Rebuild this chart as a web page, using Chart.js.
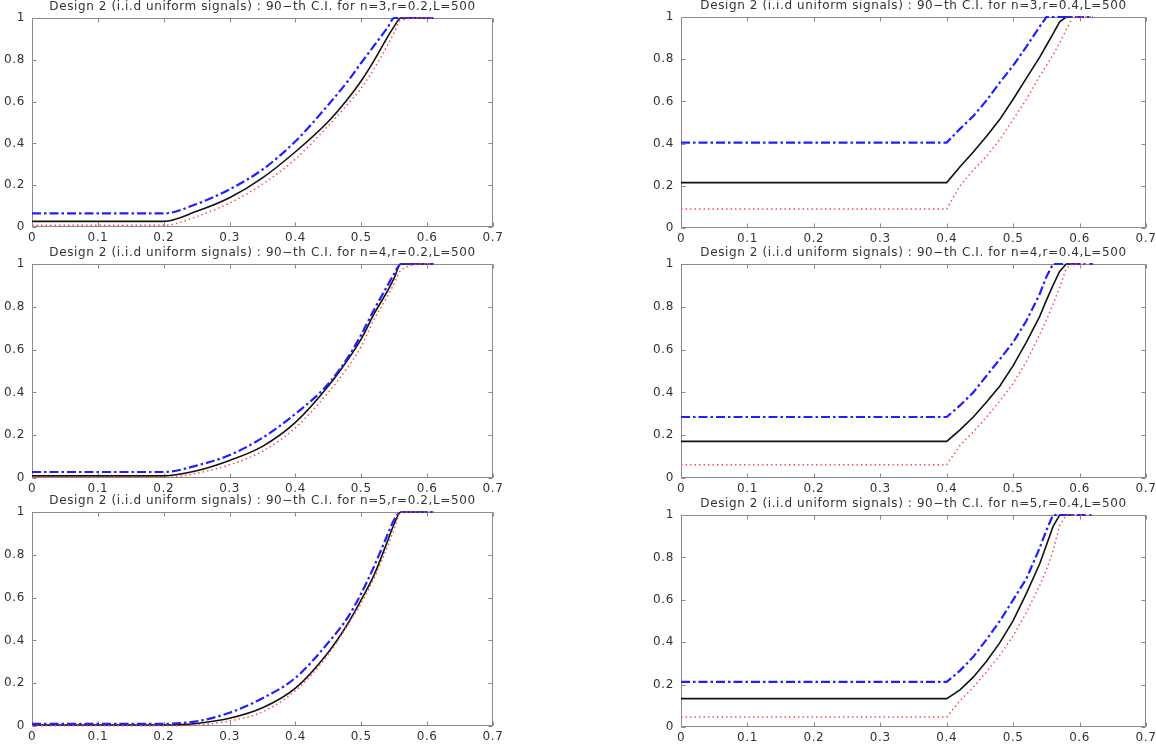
<!DOCTYPE html>
<html>
<head>
<meta charset="utf-8">
<script src="https://cdn.jsdelivr.net/npm/chart.js@4.4.0/dist/chart.umd.min.js"></script>
<style>
  body { margin: 0; background: #fff; width: 1156px; height: 746px; position: relative; overflow: hidden; }
  canvas { position: absolute; }
</style>
</head>
<body>
<canvas id="p1"></canvas>
<canvas id="p2"></canvas>
<canvas id="p3"></canvas>
<canvas id="p4"></canvas>
<canvas id="p5"></canvas>
<canvas id="p6"></canvas>
<script>
// --- data ---
const xTickVals = [0, 0.1, 0.2, 0.3, 0.4, 0.5, 0.6, 0.7];
const xTickLabels = ["0", "0.1", "0.2", "0.3", "0.4", "0.5", "0.6", "0.7"];
const yTickVals = [0, 0.2, 0.4, 0.6, 0.8, 1];
const yTickLabels = ["0", "0.2", "0.4", "0.6", "0.8", "1"];

const titles = [
  "Design 2 (i.i.d uniform signals) : 90\u2212th C.I. for n=3,r=0.2,L=500",
  "Design 2 (i.i.d uniform signals) : 90\u2212th C.I. for n=3,r=0.4,L=500",
  "Design 2 (i.i.d uniform signals) : 90\u2212th C.I. for n=4,r=0.2,L=500",
  "Design 2 (i.i.d uniform signals) : 90\u2212th C.I. for n=4,r=0.4,L=500",
  "Design 2 (i.i.d uniform signals) : 90\u2212th C.I. for n=5,r=0.2,L=500",
  "Design 2 (i.i.d uniform signals) : 90\u2212th C.I. for n=5,r=0.4,L=500"
];

// x grid for r=0.2 panels and for r=0.4 panels
const xLow = [0, 0.2, 0.25, 0.3, 0.35, 0.4, 0.45, 0.48, 0.5, 0.52, 0.54, 0.55, 0.56, 0.6, 0.61];
const xHigh = [0, 0.4, 0.42, 0.44, 0.46, 0.48, 0.5, 0.52, 0.54, 0.55, 0.56, 0.57, 0.58, 0.59, 0.62];

// n=3, r=0.2
const n3r2Black = [0.027, 0.027, 0.075, 0.14, 0.235, 0.36, 0.505, 0.615, 0.7, 0.8, 0.91, 0.96, 1, 1, null];
const n3r2Blue  = [0.065, 0.065, 0.11, 0.18, 0.275, 0.41, 0.585, 0.7, 0.786, 0.87, 0.955, 1, 1, 1, 1];
const n3r2Red   = [0.008, 0.008, 0.05, 0.115, 0.205, 0.325, 0.485, 0.59, 0.665, 0.76, 0.87, 0.93, 0.99, 1, 1];

// n=3, r=0.4
const n3r4Black = [0.215, 0.215, 0.29, 0.36, 0.435, 0.515, 0.61, 0.71, 0.81, 0.865, 0.92, 0.977, 1, 1, null];
const n3r4Blue  = [0.405, 0.405, 0.47, 0.53, 0.605, 0.69, 0.77, 0.86, 0.955, 1, 1, 1, 1, 1, 1];
const n3r4Red   = [0.09, 0.09, 0.2, 0.275, 0.34, 0.42, 0.515, 0.61, 0.72, 0.77, 0.82, 0.877, 0.94, 1, 1];

// n=4, r=0.2
const n4r2Black = [0.01, 0.01, 0.034, 0.082, 0.148, 0.26, 0.43, 0.555, 0.65, 0.77, 0.875, 0.935, 1, 1, null];
const n4r2Blue  = [0.028, 0.028, 0.058, 0.107, 0.188, 0.3, 0.44, 0.565, 0.67, 0.79, 0.9, 0.955, 1, 1, 1];
const n4r2Red   = [0.003, 0.003, 0.022, 0.062, 0.125, 0.235, 0.4, 0.52, 0.615, 0.745, 0.85, 0.91, 0.97, 1, 1];

// n=4, r=0.4
const n4r4Black = [0.171, 0.171, 0.225, 0.285, 0.355, 0.43, 0.525, 0.635, 0.755, 0.83, 0.9, 0.965, 1, 1, null];
const n4r4Blue  = [0.285, 0.285, 0.339, 0.4, 0.478, 0.555, 0.634, 0.735, 0.86, 0.94, 1, 1, 1, 1, 1];
const n4r4Red   = [0.062, 0.062, 0.153, 0.215, 0.285, 0.36, 0.442, 0.545, 0.67, 0.738, 0.812, 0.89, 0.98, 1, 1];

// n=5, r=0.2
const n5r2Black = [0.005, 0.005, 0.012, 0.036, 0.085, 0.177, 0.345, 0.48, 0.59, 0.71, 0.865, 0.945, 1, 1, null];
const n5r2Blue  = [0.01, 0.01, 0.022, 0.062, 0.13, 0.225, 0.39, 0.51, 0.62, 0.75, 0.895, 0.965, 1, 1, 1];
const n5r2Red   = [0.001, 0.001, 0.004, 0.024, 0.066, 0.165, 0.335, 0.475, 0.575, 0.695, 0.84, 0.92, 1, 1, 1];

// n=5, r=0.4
const n5r4Black = [0.134, 0.134, 0.175, 0.235, 0.31, 0.398, 0.502, 0.63, 0.77, 0.857, 0.945, 1, 1, 1, null];
const n5r4Blue  = [0.213, 0.213, 0.266, 0.331, 0.413, 0.5, 0.6, 0.7, 0.845, 0.928, 1, 1, 1, 1, 1];
const n5r4Red   = [0.047, 0.047, 0.124, 0.187, 0.26, 0.339, 0.43, 0.54, 0.668, 0.74, 0.83, 0.95, 1, 1, 1];

// --- layout: plot area of each panel in page pixels ---
const panels = [
  { id: "p1", left: 32,  right: 493,  top: 18,  bottom: 227, smooth: true,  xs: xLow,  black: n3r2Black, blue: n3r2Blue, red: n3r2Red },
  { id: "p2", left: 681, right: 1146, top: 17,  bottom: 228, smooth: false, xs: xHigh, black: n3r4Black, blue: n3r4Blue, red: n3r4Red },
  { id: "p3", left: 32,  right: 493,  top: 264, bottom: 478, smooth: true,  xs: xLow,  black: n4r2Black, blue: n4r2Blue, red: n4r2Red },
  { id: "p4", left: 681, right: 1146, top: 264, bottom: 478, smooth: false, xs: xHigh, black: n4r4Black, blue: n4r4Blue, red: n4r4Red },
  { id: "p5", left: 32,  right: 493,  top: 512, bottom: 726, smooth: true,  xs: xLow,  black: n5r2Black, blue: n5r2Blue, red: n5r2Red },
  { id: "p6", left: 681, right: 1146, top: 515, bottom: 727, smooth: false, xs: xHigh, black: n5r4Black, blue: n5r4Blue, red: n5r4Red }
];

// side gutters are equal so the title centres over the plot box
const PAD_SIDE = 36, PAD_T = 20, PAD_B = 20;
const FONT = "'DejaVu Sans', sans-serif";

// the original text is set wide; spread the glyphs a little
const wideText = {
  id: "wideText",
  beforeDraw(chart) { chart.ctx.letterSpacing = "0.6px"; },
};

// MATLAB-like box with inward ticks on all four sides
const axesBox = {
  id: "axesBox",
  beforeDatasetsDraw(chart) {
    const { ctx, chartArea: a, scales } = chart;
    const L = Math.round(a.left) + 0.5, R = Math.round(a.right) - 0.5;
    const T = Math.round(a.top) + 0.5, B = Math.round(a.bottom) - 0.5;
    ctx.save();
    ctx.strokeStyle = "#8a8a8a";
    ctx.lineWidth = 1;
    ctx.strokeRect(L, T, R - L, B - T);
    ctx.beginPath();
    xTickVals.forEach((v) => {
      const px = Math.round(scales.x.getPixelForValue(v)) + 0.5;
      ctx.moveTo(px, B); ctx.lineTo(px, B - 4);
      ctx.moveTo(px, T); ctx.lineTo(px, T + 4);
    });
    yTickVals.forEach((v) => {
      const py = Math.round(scales.y.getPixelForValue(v)) + 0.5;
      ctx.moveTo(L, py); ctx.lineTo(L + 4, py);
      ctx.moveTo(R, py); ctx.lineTo(R - 4, py);
    });
    ctx.stroke();
    ctx.restore();
  }
};

function series(xs, ys) {
  return xs.map((x, i) => ({ x: x, y: ys[i] }));
}

function makePanel(p, title) {
  const cv = document.getElementById(p.id);
  const w = p.right - p.left + 2 * PAD_SIDE;
  const h = p.bottom - p.top + PAD_T + PAD_B;
  cv.width = w;
  cv.height = h;
  cv.style.width = w + "px";
  cv.style.height = h + "px";
  cv.style.left = (p.left - PAD_SIDE) + "px";
  cv.style.top = (p.top - PAD_T) + "px";

  const curve = p.smooth ? "monotone" : "default";

  new Chart(cv.getContext("2d"), {
    type: "line",
    data: {
      datasets: [
        {
          data: series(p.xs, p.red),
          borderColor: "#ff4a4a",
          borderWidth: 1.5,
          borderDash: [1.5, 3],
          cubicInterpolationMode: curve,
          tension: 0,
          pointRadius: 0,
          clip: false,
        },
        {
          data: series(p.xs, p.blue),
          borderColor: "#2020ff",
          borderWidth: 2.2,
          borderDash: [9, 3, 2.5, 3],
          cubicInterpolationMode: curve,
          tension: 0,
          pointRadius: 0,
          clip: false,
        },
        {
          data: series(p.xs, p.black),
          borderColor: "#111111",
          borderWidth: 1.6,
          cubicInterpolationMode: curve,
          tension: 0,
          pointRadius: 0,
          clip: false,
        },
      ],
    },
    options: {
      responsive: false,
      animation: false,
      devicePixelRatio: 1,
      spanGaps: false,
      layout: { padding: 0 },
      plugins: {
        legend: { display: false },
        tooltip: { enabled: false },
        title: {
          display: true,
          text: title,
          color: "#333",
          font: { family: FONT, size: 12, weight: "normal", lineHeight: 1.2 },
          padding: { top: 1.5, bottom: PAD_T - 1.5 - 14.4 },
        },
      },
      scales: {
        x: {
          type: "linear",
          min: 0,
          max: 0.7,
          grid: { display: false, drawTicks: false },
          border: { display: false },
          afterBuildTicks: (s) => { s.ticks = xTickVals.map((v) => ({ value: v })); },
          afterFit: (s) => { s.height = PAD_B; s.paddingLeft = 0; s.paddingRight = 0; },
          ticks: {
            autoSkip: false,
            maxRotation: 0,
            padding: 4,
            color: "#333",
            font: { family: FONT, size: 12 },
            callback: (v, i) => xTickLabels[i],
          },
        },
        y: {
          min: 0,
          max: 1,
          grid: { display: false, drawTicks: false },
          border: { display: false },
          afterBuildTicks: (s) => { s.ticks = yTickVals.map((v) => ({ value: v })); },
          afterFit: (s) => { s.width = PAD_SIDE; s.paddingTop = 0; s.paddingBottom = 0; },
          ticks: {
            padding: 7,
            color: "#333",
            font: { family: FONT, size: 12 },
            callback: (v, i) => yTickLabels[i],
          },
        },
        // empty right-hand gutter, mirrors the y axis so the title is centred
        yGutter: {
          position: "right",
          min: 0,
          max: 1,
          grid: { display: false, drawTicks: false },
          border: { display: false },
          ticks: { display: false },
          afterFit: (s) => { s.width = PAD_SIDE; s.paddingTop = 0; s.paddingBottom = 0; },
        },
      },
    },
    plugins: [wideText, axesBox],
  });
}

panels.forEach((p, i) => makePanel(p, titles[i]));
</script>
</body>
</html>
